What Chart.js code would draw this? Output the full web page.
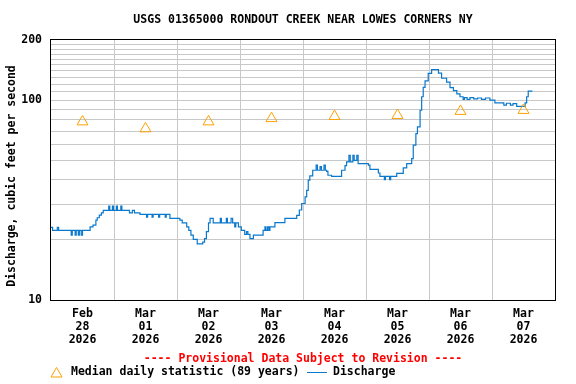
<!DOCTYPE html>
<html>
<head>
<meta charset="utf-8">
<title>USGS 01365000 Rondout Creek</title>
<script src="https://cdn.jsdelivr.net/npm/chart.js@4.4.1/dist/chart.umd.min.js"></script>
<style>
  html, body { margin: 0; padding: 0; background: #fff; }
  canvas { display: block; }
</style>
</head>
<body>
<canvas id="hydrograph" width="576" height="384"></canvas>
<script>
const stationTitle = "USGS 01365000 RONDOUT CREEK NEAR LOWES CORNERS NY";
const yAxisTitle = "Discharge, cubic feet per second";
const provisionalNote = "---- Provisional Data Subject to Revision ----";
const medianLabel = "Median daily statistic (89 years)";
const dischargeLabel = "Discharge";

// x axis: hours since Feb 28 2026 00:00, one label per day at noon
const dayLabels = [
    ["Feb", "28", "2026"],
    ["Mar", "01", "2026"],
    ["Mar", "02", "2026"],
    ["Mar", "03", "2026"],
    ["Mar", "04", "2026"],
    ["Mar", "05", "2026"],
    ["Mar", "06", "2026"],
    ["Mar", "07", "2026"]
];
const yTickLabels = [10, 100, 200];
const yGridValues = [10, 20, 30, 40, 50, 60, 70, 80, 90, 100, 110, 120, 130, 140, 150, 160, 170, 180, 190, 200];

// median daily statistic, one per day (plotted at noon)
const medianHours = [12, 36, 60, 84, 108, 132, 156, 180];
const medianCfs = [78, 72, 78, 81, 83, 84, 88, 89];

// discharge readings (hours since Feb 28 00:00, cfs)
const dischargeHours = [
    0, 0.6, 2.4, 2.9, 7.7, 8.1, 9.2, 9.6, 10.4, 10.8, 11.5, 12.0,
    14.9, 16.0, 17.1, 17.6, 18.4, 19.2, 19.9, 22.0, 22.4, 23.4, 23.8, 24.9,
    25.3, 26.6, 27.0, 29.9, 31.0, 31.8, 33.9, 36.4, 36.8, 38.5, 38.9, 41.0,
    41.4, 43.5, 43.9, 45.3, 49.1, 50.0, 51.7, 52.5, 53.3, 54.2, 55.7, 57.8,
    58.5, 59.2, 60.0, 60.6, 61.8, 64.5, 64.9, 66.8, 67.2, 68.6, 69.2, 70.0,
    70.4, 71.4, 72.5, 73.8, 74.5, 75.0, 75.8, 77.1, 80.8, 81.5, 81.9, 82.5,
    83.0, 83.4, 85.3, 89.1, 93.6, 94.6, 95.5, 96.8, 97.4, 98.0, 98.6, 99.7,
    101.0, 101.5, 102.5, 103.0, 104.0, 104.5, 105.0, 105.5, 106.9, 110.7, 112.0, 112.6,
    113.5, 114.0, 115.0, 115.5, 116.5, 117.0, 120.9, 121.5, 124.7, 125.3, 127.0, 127.4,
    129.0, 129.4, 131.7, 134.2, 135.5, 137.4, 138.0, 139.0, 139.6, 140.6, 141.2, 141.8,
    142.5, 143.7, 145.0, 147.6, 148.8, 150.7, 152.0, 153.3, 154.6, 155.8, 157.0, 157.5,
    158.5, 159.6, 161.0, 162.5, 164.0, 165.5, 167.2, 169.1, 172.5, 173.5, 175.0, 176.0,
    177.4, 180.6, 181.2, 181.8, 183.4
];
const dischargeCfs = [
    23.1, 22.3, 23.1, 22.3, 21.1, 22.3, 21.1, 22.3, 21.1, 22.3, 21.1, 22.3,
    23.2, 23.7, 25.1, 25.8, 26.6, 27.3, 28.1, 29.5, 28.1, 29.5, 28.1, 29.5,
    28.1, 29.5, 28.1, 27.3, 28.1, 27.3, 26.8, 26.0, 26.8, 26.0, 26.8, 26.0,
    26.8, 26.0, 26.8, 25.6, 25.1, 24.3, 23.2, 22.3, 21.1, 20.1, 19.1, 19.5,
    20.3, 22.0, 24.3, 25.6, 24.3, 25.6, 24.3, 25.6, 24.3, 25.6, 24.3, 23.2,
    24.3, 23.2, 22.3, 21.3, 22.0, 21.3, 20.3, 21.1, 22.3, 23.2, 22.3, 23.2,
    22.3, 23.2, 24.4, 25.6, 26.5, 28.2, 30.4, 32.8, 35.4, 39.8, 41.8, 44.6,
    47.3, 44.6, 46.5, 44.6, 47.3, 44.6, 44.0, 42.1, 41.6, 44.6, 47.0, 49.1,
    52.9, 49.1, 52.9, 50.0, 52.9, 48.1, 47.3, 45.0, 43.2, 41.6, 40.0, 41.6,
    40.0, 41.6, 43.0, 45.8, 48.1, 51.0, 59.5, 68.0, 73.5, 89.0, 104, 116,
    125, 136, 142, 136.5, 128.7, 123, 115.5, 111.7, 107.6, 104, 100.8, 103,
    101, 103, 101.5, 102.5, 101, 102.5, 100, 96.9, 94.5, 96.5, 94.5, 96,
    93.1, 97, 104, 110.9, 110.9
];

const monoFont = '"DejaVu Sans Mono", "Liberation Mono", monospace';
const gridGrey = '#c8c8c8';
const dischargeBlue = '#0a78cc';
const medianOrange = '#ffa000';

// frame around the plot + title, note, legend and y title
const usgsDecor = {
    id: 'usgsDecor',
    afterDraw(chart) {
        const { ctx, chartArea } = chart;
        const mid = (chartArea.left + chartArea.right) / 2;
        ctx.save();

        ctx.strokeStyle = '#000';
        ctx.lineWidth = 1;
        ctx.strokeRect(Math.round(chartArea.left) - 0.5, Math.round(chartArea.top) - 0.5,
            Math.round(chartArea.right - chartArea.left) + 1, Math.round(chartArea.bottom - chartArea.top) + 1);

        ctx.font = 'bold 11.5px ' + monoFont;
        ctx.textBaseline = 'middle';
        ctx.textAlign = 'center';
        ctx.fillStyle = '#000';
        ctx.fillText(stationTitle, mid, 20.5);

        ctx.fillStyle = '#ff0000';
        ctx.fillText(provisionalNote, mid, 359);

        // y axis title, rotated
        ctx.save();
        ctx.translate(12, 176);
        ctx.rotate(-Math.PI / 2);
        ctx.fillStyle = '#000';
        ctx.fillText(yAxisTitle, 0, 0);
        ctx.restore();

        // legend
        const ly = 372.5;
        ctx.strokeStyle = medianOrange;
        ctx.beginPath();
        ctx.moveTo(51, 377);
        ctx.lineTo(56.5, 367.5);
        ctx.lineTo(62, 377);
        ctx.closePath();
        ctx.stroke();

        ctx.textAlign = 'left';
        ctx.fillStyle = '#000';
        ctx.fillText(medianLabel, 71, ly);

        ctx.strokeStyle = dischargeBlue;
        ctx.beginPath();
        ctx.moveTo(307, ly);
        ctx.lineTo(327, ly);
        ctx.stroke();
        ctx.fillText(dischargeLabel, 333, ly);

        ctx.restore();
    }
};

const ctx = document.getElementById('hydrograph').getContext('2d');

new Chart(ctx, {
    type: 'line',
    data: {
        datasets: [
            {
                label: medianLabel,
                data: medianHours.map((h, i) => ({ x: h, y: medianCfs[i] })),
                showLine: false,
                pointStyle: 'triangle',
                pointRadius: 6.3,
                pointBorderWidth: 1,
                pointBorderColor: medianOrange,
                pointBackgroundColor: 'rgba(0,0,0,0)'
            },
            {
                label: dischargeLabel,
                data: dischargeHours.map((h, i) => ({ x: h, y: dischargeCfs[i] })),
                borderColor: dischargeBlue,
                borderWidth: 1.2,
                pointRadius: 0,
                stepped: true,
                fill: false
            }
        ]
    },
    options: {
        responsive: false,
        animation: false,
        devicePixelRatio: 1,
        layout: { padding: { top: 40, right: 21, bottom: 34, left: 0 } },
        plugins: {
            legend: { display: false },
            title: { display: false },
            tooltip: { enabled: false }
        },
        scales: {
            x: {
                type: 'linear',
                min: 0,
                max: 192,
                afterBuildTicks: (scale) => {
                    const ticks = [];
                    for (let h = 0; h <= 192; h += 12) ticks.push({ value: h });
                    scale.ticks = ticks;
                },
                afterFit: (scale) => { scale.height = 50; },
                border: { display: false },
                grid: {
                    drawTicks: false,
                    lineWidth: 1,
                    color: (c) => {
                        const v = c.tick ? c.tick.value : 0;
                        return (v % 24 === 0 && v > 0 && v < 192) ? gridGrey : 'rgba(0,0,0,0)';
                    }
                },
                ticks: {
                    autoSkip: false,
                    maxRotation: 0,
                    padding: 8,
                    color: '#000',
                    font: { family: monoFont, size: 11.5, weight: 'bold', lineHeight: 1.12 },
                    callback: (value) => value % 24 === 12 ? dayLabels[(value - 12) / 24] : ''
                }
            },
            y: {
                type: 'logarithmic',
                min: 10,
                max: 200,
                afterBuildTicks: (scale) => {
                    scale.ticks = yGridValues.map(v => ({ value: v }));
                },
                afterFit: (scale) => { scale.width = 51; },
                border: { display: false },
                grid: {
                    drawTicks: false,
                    lineWidth: 1,
                    color: (c) => {
                        const v = c.tick ? c.tick.value : 10;
                        return (v === 10 || v === 200) ? 'rgba(0,0,0,0)' : gridGrey;
                    }
                },
                ticks: {
                    autoSkip: false,
                    padding: 9,
                    color: '#000',
                    font: { family: monoFont, size: 11.5, weight: 'bold' },
                    callback: (value) => yTickLabels.includes(value) ? String(value) : ''
                }
            }
        }
    },
    plugins: [usgsDecor]
});
</script>
</body>
</html>
